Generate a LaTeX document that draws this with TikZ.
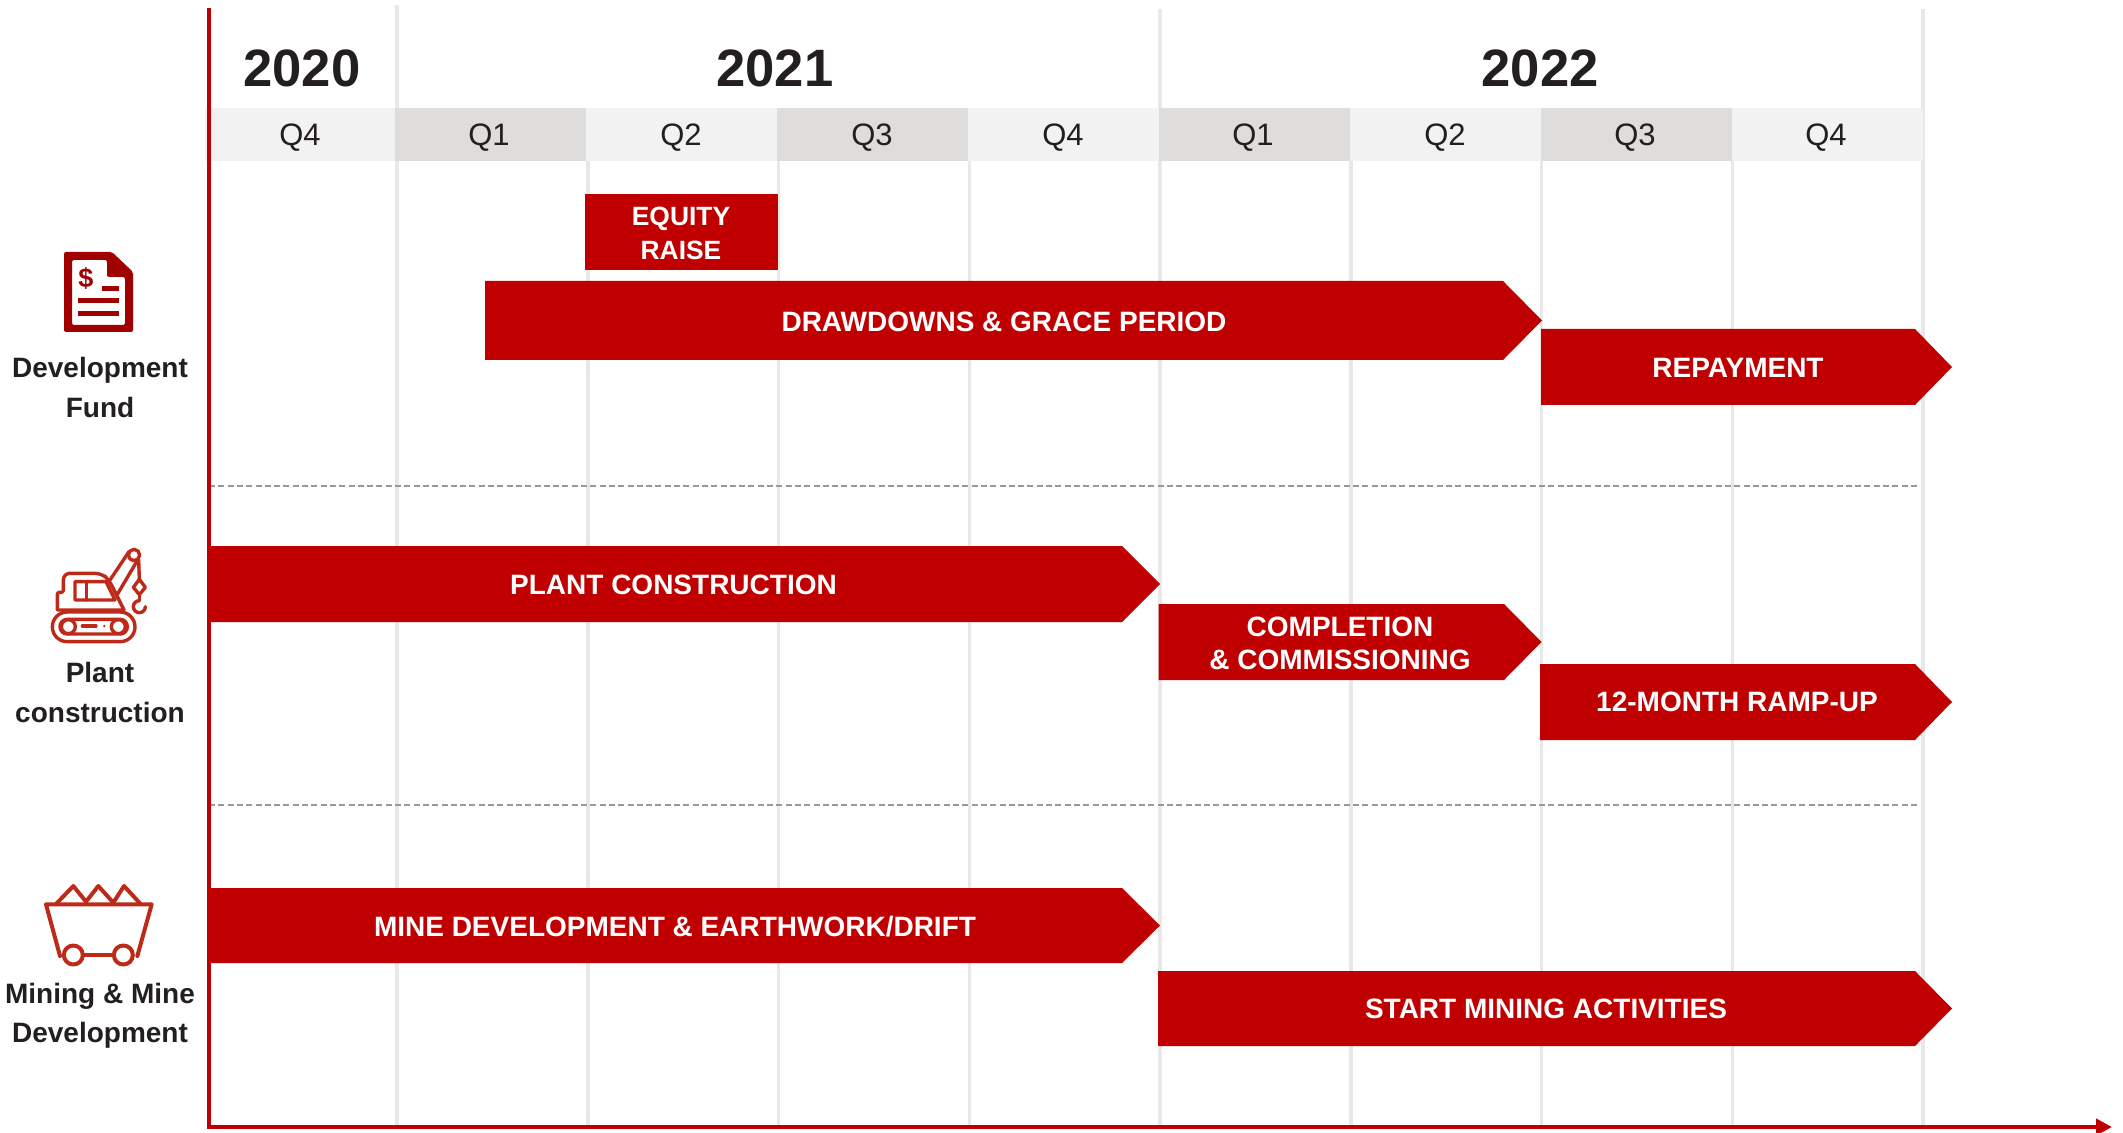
\documentclass[tikz,border=0pt]{standalone}
\usepackage{fontspec}
\setmainfont{Liberation Sans}
\usetikzlibrary{arrows.meta}
\definecolor{barred}{HTML}{C00000}
\definecolor{docred}{HTML}{A00000}
\definecolor{iconred}{HTML}{BE2A1A}
\definecolor{inkdark}{HTML}{231F20}
\definecolor{gridgrey}{HTML}{E8E8E8}
\definecolor{striplight}{HTML}{F2F2F2}
\definecolor{stripdark}{HTML}{DEDDDB}
\definecolor{dashgrey}{HTML}{999999}
\tikzset{
  gridline/.style={draw=gridgrey,line width=1.75pt},
  sepline/.style={draw=dashgrey,line width=0.8pt,dash pattern=on 3pt off 1.65pt},
  axisline/.style={draw=barred,line width=2pt},
  yearlabel/.style={font=\fontsize{26.3}{30}\selectfont\bfseries,text=inkdark,inner sep=0pt},
  qlabel/.style={font=\fontsize{15.5}{18}\selectfont,text=inkdark,inner sep=0pt},
  sidelabel/.style={font=\fontsize{14}{20}\selectfont\bfseries,text=inkdark,inner sep=0pt,align=center},
  barlabel/.style={font=\fontsize{14}{17}\selectfont\bfseries,text=white,inner sep=0pt,align=center},
  smallbarlabel/.style={barlabel,font=\fontsize{13.2}{16}\selectfont\bfseries},
  iconline/.style={draw=iconred,line width=1.7pt,line join=round,line cap=round},
  cartline/.style={iconline,line width=2pt},
}
\newcommand{\arrowbar}[5]{\fill[barred] (#1,#2) -- (#4,#2) -- (#5,{(#2+#3)/2}) -- (#4,#3) -- (#1,#3) -- cycle;}
\begin{document}
\begin{tikzpicture}[x=0.5pt,y=-0.5pt]
\useasboundingbox (0,0) rectangle (2123,1133);
% grid
\foreach \gx/\gy in {397/5,587.75/161,778.5/161,969.25/161,1160/9,1350.75/161,1541.5/161,1732.25/161,1923/9}
  \draw[gridline] (\gx,\gy) -- (\gx,1125);
% quarter strip
\foreach \xa/\xb/\c in {205/395/striplight,395/586/stripdark,586/777/striplight,777/968/stripdark,968/1159/striplight,1159/1350/stripdark,1350/1541/striplight,1541/1732/stripdark,1732/1923/striplight}
  \fill[\c] (\xa,108) rectangle (\xb,161);
% separators
\coordinate (sepaL) at (209,486); \coordinate (sepaR) at (1920,486);
\coordinate (sepbL) at (209,805); \coordinate (sepbR) at (1920,805);
\draw[sepline] (sepaL) -- (sepaR);
\draw[sepline] (sepbL) -- (sepbR);
% years
\node[yearlabel] (y20) at (302,68) {2020};
\node[yearlabel] (y21) at (775,68) {2021};
\node[yearlabel] (y22) at (1540,68) {2022};
% quarters
\node[qlabel] (q1) at (300,137.5) {Q4};
\node[qlabel] (q2) at (489,137.5) {Q1};
\node[qlabel] (q3) at (681,137.5) {Q2};
\node[qlabel] (q4) at (872,137.5) {Q3};
\node[qlabel] (q5) at (1063,137.5) {Q4};
\node[qlabel] (q6) at (1253,137.5) {Q1};
\node[qlabel] (q7) at (1445,137.5) {Q2};
\node[qlabel] (q8) at (1635,137.5) {Q3};
\node[qlabel] (q9) at (1826,137.5) {Q4};
% bars
\fill[barred] (585,194) rectangle (778,270);
\arrowbar{485}{281}{360}{1503}{1542}
\arrowbar{1541}{329}{405}{1915}{1952}
\arrowbar{209}{546}{622}{1122}{1160}
\arrowbar{1158.5}{604}{680}{1504}{1541.5}
\arrowbar{1540}{664}{740}{1915}{1952}
\arrowbar{209}{888}{963}{1122}{1160}
\arrowbar{1158}{971}{1046}{1915}{1952}
% bar labels
\node[smallbarlabel] (t1a) at (681,218.5) {EQUITY};
\node[smallbarlabel] (t1b) at (681,250) {RAISE};
\node[barlabel] (t2) at (1004,322) {DRAWDOWNS \& GRACE PERIOD};
\node[barlabel] (t3) at (1738,368) {REPAYMENT};
\node[barlabel] (t4) at (673.5,585) {PLANT CONSTRUCTION};
\node[barlabel] (t5a) at (1340,627) {COMPLETION};
\node[barlabel] (t5b) at (1340,660) {\& COMMISSIONING};
\node[barlabel] (t6) at (1737,702) {12-MONTH RAMP-UP};
\node[barlabel] (t7) at (675,927) {MINE DEVELOPMENT \& EARTHWORK/DRIFT};
\node[barlabel] (t8) at (1546,1009) {START MINING ACTIVITIES};
% axes
\coordinate (axtop) at (209,8.5);
\coordinate (axorigin) at (209,1127);
\coordinate (axend) at (2112,1127);
\draw[axisline] (axtop) -- (axorigin);
\draw[axisline,-{Triangle[length=8pt,width=8pt]}] ([xshift=-1pt]axorigin) -- (axend);
% side labels
\node[sidelabel] (s1a) at (100,370.5) {Development};
\node[sidelabel] (s1b) at (100,407) {Fund};
\node[sidelabel] (s2a) at (100,672.5) {Plant};
\node[sidelabel] (s2b) at (100,712) {construction};
\node[sidelabel] (s3a) at (100,996.5) {Mining \& Mine};
\node[sidelabel] (s3b) at (100,1035.5) {Development};
% document icon
\fill[docred,even odd rule,rounded corners=1pt]
  (64,252) -- (112,252) -- (133,272) -- (133,332) -- (64,332) -- cycle
  (72,260) -- (107,260) -- (107,277) -- (125,277) -- (125,325) -- (72,325) -- cycle;
\node[font=\fontsize{13.5}{14}\selectfont\bfseries,text=docred,inner sep=0pt] (dollar) at (86,278) {\$};
\fill[docred] (102,286) rectangle (119,291);
\fill[docred] (78,298.5) rectangle (119,303.5);
\fill[docred] (78,311.5) rectangle (119,316.5);
% crane icon (coordinates in 3x zoom of a crop at y=530)
\begin{scope}[shift={(0pt,-265pt)},x=0.16667pt,y=-0.16667pt]
  \draw[iconline,rounded corners=1pt] (172,240) -- (172,187) -- (190,187) -- (190,155) [rounded corners=3.3pt] -- (190,130) -- (305,130) -- (327,150) [rounded corners=0pt] -- (372,240) -- cycle;
  \draw[iconline] (225,155) -- (318,155) -- (345,210) -- (225,210) -- cycle;
  \draw[iconline] (260,155) -- (260,210);
  \draw[iconline] (330,150) -- (387,65);
  \draw[iconline] (352,193) -- (413,90);
  \draw[iconline] (402,75) circle (17);
  \draw[iconline] (416,90) -- (418,148);
  \draw[iconline] (418,148) -- (436,172) -- (418,194) -- (400,172) -- cycle;
  \draw[iconline] (418,194) -- (418,212);
  \draw[iconline] (418,212) .. controls (408,212) and (400,220) .. (400,230) .. controls (400,240) and (408,248) .. (418,248) .. controls (428,248) and (436,240) .. (436,230);
  \draw[iconline,rounded corners=7.4pt] (157,246) rectangle (405,335);
  \draw[iconline,rounded corners=3.6pt] (180,268) rectangle (382,312);
  \draw[iconline] (205,290) circle (21);
  \draw[iconline] (355,290) circle (21);
  \draw[iconline] (247,288) -- (288,288);
  \fill[iconred] (313,288) circle (4);
\end{scope}
% cart icon (coordinates in 3x zoom of a crop at y=860)
\begin{scope}[shift={(0pt,-430pt)},x=0.16667pt,y=-0.16667pt]
  \draw[cartline] (180,288) -- (138,133) -- (455,133) -- (412,288);
  \draw[cartline] (170,130) -- (220,78) -- (258,125) -- (295,78) -- (340,128);
  \draw[cartline] (340,128) -- (372,78) -- (420,130);
  \draw[cartline,fill=white] (220,285) circle (28.5);
  \draw[cartline,fill=white] (370,285) circle (28.5);
  \draw[cartline] (250,285) -- (340,285);
\end{scope}
\end{tikzpicture}
\end{document}
